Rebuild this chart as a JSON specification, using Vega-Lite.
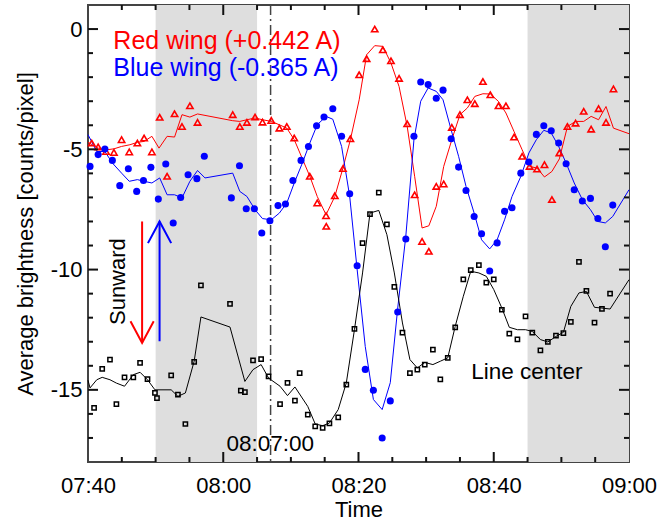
{
  "$schema": "https://vega.github.io/schema/vega-lite/v6.json",
  "width": 541,
  "height": 457,
  "autosize": "none",
  "padding": {"left": 88, "top": 5, "right": 28, "bottom": 60},
  "config": {
    "view": {"stroke": "#444", "strokeWidth": 2},
    "font": "Liberation Sans",
    "axis": {
      "domain": false, "grid": false, "ticks": false,
      "labelFont": "Liberation Sans", "labelFontSize": 22, "labelColor": "#000",
      "titleFont": "Liberation Sans", "titleFontSize": 22, "titleFontWeight": "normal", "titleColor": "#000"
    }
  },
  "data": {
    "format": {"parse": {"t": "date:'%H:%M:%S'", "t2": "date:'%H:%M:%S'"}},
    "values": [
      {"k":"band","t":"07:50:00","t2":"08:05:00"},
      {"k":"band","t":"08:45:00","t2":"09:00:00"},
      {"k":"vline","t":"08:07:00"},

      {"k":"xM","t":"08:00:00","v":-18},{"k":"xM","t":"08:20:00","v":-18},{"k":"xM","t":"08:40:00","v":-18},
      {"k":"xM","t":"08:00:00","v":1},{"k":"xM","t":"08:20:00","v":1},{"k":"xM","t":"08:40:00","v":1},
      {"k":"xm","t":"07:45:00","v":-18},{"k":"xm","t":"07:50:00","v":-18},{"k":"xm","t":"07:55:00","v":-18},
      {"k":"xm","t":"08:05:00","v":-18},{"k":"xm","t":"08:10:00","v":-18},{"k":"xm","t":"08:15:00","v":-18},
      {"k":"xm","t":"08:25:00","v":-18},{"k":"xm","t":"08:30:00","v":-18},{"k":"xm","t":"08:35:00","v":-18},
      {"k":"xm","t":"08:45:00","v":-18},{"k":"xm","t":"08:50:00","v":-18},{"k":"xm","t":"08:55:00","v":-18},
      {"k":"xm","t":"07:45:00","v":1},{"k":"xm","t":"07:50:00","v":1},{"k":"xm","t":"07:55:00","v":1},
      {"k":"xm","t":"08:05:00","v":1},{"k":"xm","t":"08:10:00","v":1},{"k":"xm","t":"08:15:00","v":1},
      {"k":"xm","t":"08:25:00","v":1},{"k":"xm","t":"08:30:00","v":1},{"k":"xm","t":"08:35:00","v":1},
      {"k":"xm","t":"08:45:00","v":1},{"k":"xm","t":"08:50:00","v":1},{"k":"xm","t":"08:55:00","v":1},
      {"k":"yM","t":"07:40:00","v":0},{"k":"yM","t":"07:40:00","v":-5},{"k":"yM","t":"07:40:00","v":-10},{"k":"yM","t":"07:40:00","v":-15},
      {"k":"yM","t":"09:00:00","v":0},{"k":"yM","t":"09:00:00","v":-5},{"k":"yM","t":"09:00:00","v":-10},{"k":"yM","t":"09:00:00","v":-15},
      {"k":"ym","t":"07:40:00","v":-1},{"k":"ym","t":"07:40:00","v":-2},{"k":"ym","t":"07:40:00","v":-3},{"k":"ym","t":"07:40:00","v":-4},
      {"k":"ym","t":"07:40:00","v":-6},{"k":"ym","t":"07:40:00","v":-7},{"k":"ym","t":"07:40:00","v":-8},{"k":"ym","t":"07:40:00","v":-9},
      {"k":"ym","t":"07:40:00","v":-11},{"k":"ym","t":"07:40:00","v":-12},{"k":"ym","t":"07:40:00","v":-13},{"k":"ym","t":"07:40:00","v":-14},
      {"k":"ym","t":"07:40:00","v":-16},{"k":"ym","t":"07:40:00","v":-17},
      {"k":"ym","t":"09:00:00","v":-1},{"k":"ym","t":"09:00:00","v":-2},{"k":"ym","t":"09:00:00","v":-3},{"k":"ym","t":"09:00:00","v":-4},
      {"k":"ym","t":"09:00:00","v":-6},{"k":"ym","t":"09:00:00","v":-7},{"k":"ym","t":"09:00:00","v":-8},{"k":"ym","t":"09:00:00","v":-9},
      {"k":"ym","t":"09:00:00","v":-11},{"k":"ym","t":"09:00:00","v":-12},{"k":"ym","t":"09:00:00","v":-13},{"k":"ym","t":"09:00:00","v":-14},
      {"k":"ym","t":"09:00:00","v":-16},{"k":"ym","t":"09:00:00","v":-17},

      {"k":"obs","s":"red","t":"07:40:33","v":-4.74},
      {"k":"obs","s":"red","t":"07:41:30","v":-4.9},
      {"k":"obs","s":"red","t":"07:42:40","v":-5.09},
      {"k":"obs","s":"red","t":"07:43:50","v":-5.13},
      {"k":"obs","s":"red","t":"07:44:58","v":-4.6},
      {"k":"obs","s":"red","t":"07:46:06","v":-5.11},
      {"k":"obs","s":"red","t":"07:47:18","v":-4.74},
      {"k":"obs","s":"red","t":"07:48:18","v":-4.53},
      {"k":"obs","s":"red","t":"07:49:27","v":-5.11},
      {"k":"obs","s":"red","t":"07:50:36","v":-3.67},
      {"k":"obs","s":"red","t":"07:51:42","v":-6.12},
      {"k":"obs","s":"red","t":"07:52:48","v":-3.52},
      {"k":"obs","s":"red","t":"07:53:54","v":-4.05},
      {"k":"obs","s":"red","t":"07:55:04","v":-3.19},
      {"k":"obs","s":"red","t":"07:56:12","v":-3.88},
      {"k":"obs","s":"red","t":"08:01:24","v":-3.56},
      {"k":"obs","s":"red","t":"08:02:27","v":-4.05},
      {"k":"obs","s":"red","t":"08:03:30","v":-3.88},
      {"k":"obs","s":"red","t":"08:04:42","v":-3.66},
      {"k":"obs","s":"red","t":"08:05:48","v":-3.87},
      {"k":"obs","s":"red","t":"08:07:06","v":-3.8},
      {"k":"obs","s":"red","t":"08:08:18","v":-4.12},
      {"k":"obs","s":"red","t":"08:09:24","v":-4.05},
      {"k":"obs","s":"red","t":"08:10:30","v":-4.53},
      {"k":"obs","s":"red","t":"08:12:48","v":-6.12},
      {"k":"obs","s":"red","t":"08:13:54","v":-7.23},
      {"k":"obs","s":"red","t":"08:15:12","v":-7.76},
      {"k":"obs","s":"red","t":"08:15:14","v":-8.2},
      {"k":"obs","s":"red","t":"08:16:30","v":-6.93},
      {"k":"obs","s":"red","t":"08:17:42","v":-5.8},
      {"k":"obs","s":"red","t":"08:18:48","v":-4.56},
      {"k":"obs","s":"red","t":"08:20:06","v":-1.9},
      {"k":"obs","s":"red","t":"08:21:12","v":-1.23},
      {"k":"obs","s":"red","t":"08:22:24","v":0.0},
      {"k":"obs","s":"red","t":"08:23:36","v":-0.86},
      {"k":"obs","s":"red","t":"08:24:48","v":-1.32},
      {"k":"obs","s":"red","t":"08:26:00","v":-2.05},
      {"k":"obs","s":"red","t":"08:27:12","v":-3.94},
      {"k":"obs","s":"red","t":"08:28:18","v":-6.89},
      {"k":"obs","s":"red","t":"08:29:24","v":-8.83},
      {"k":"obs","s":"red","t":"08:30:24","v":-9.24},
      {"k":"obs","s":"red","t":"08:31:30","v":-6.54},
      {"k":"obs","s":"red","t":"08:32:36","v":-6.44},
      {"k":"obs","s":"red","t":"08:33:48","v":-4.09},
      {"k":"obs","s":"red","t":"08:35:00","v":-3.56},
      {"k":"obs","s":"red","t":"08:36:06","v":-2.94},
      {"k":"obs","s":"red","t":"08:37:12","v":-3.1},
      {"k":"obs","s":"red","t":"08:38:24","v":-2.18},
      {"k":"obs","s":"red","t":"08:39:30","v":-2.73},
      {"k":"obs","s":"red","t":"08:40:42","v":-3.19},
      {"k":"obs","s":"red","t":"08:41:48","v":-3.19},
      {"k":"obs","s":"red","t":"08:43:00","v":-4.49},
      {"k":"obs","s":"red","t":"08:44:12","v":-5.29},
      {"k":"obs","s":"red","t":"08:45:18","v":-5.71},
      {"k":"obs","s":"red","t":"08:46:24","v":-5.82},
      {"k":"obs","s":"red","t":"08:47:30","v":-5.64},
      {"k":"obs","s":"red","t":"08:48:36","v":-7.09},
      {"k":"obs","s":"red","t":"08:49:42","v":-5.15},
      {"k":"obs","s":"red","t":"08:50:54","v":-4.05},
      {"k":"obs","s":"red","t":"08:52:06","v":-3.91},
      {"k":"obs","s":"red","t":"08:53:18","v":-3.42},
      {"k":"obs","s":"red","t":"08:54:24","v":-4.16},
      {"k":"obs","s":"red","t":"08:55:30","v":-3.31},
      {"k":"obs","s":"red","t":"08:56:36","v":-3.88},
      {"k":"obs","s":"red","t":"08:57:42","v":-2.49},

      {"k":"fit","s":"red","t":"07:40:00","v":-4.71},
      {"k":"fit","s":"red","t":"07:41:30","v":-4.95},
      {"k":"fit","s":"red","t":"07:42:46","v":-5.02},
      {"k":"fit","s":"red","t":"07:43:50","v":-4.98},
      {"k":"fit","s":"red","t":"07:44:58","v":-4.88},
      {"k":"fit","s":"red","t":"07:46:12","v":-4.81},
      {"k":"fit","s":"red","t":"07:47:18","v":-4.71},
      {"k":"fit","s":"red","t":"07:48:18","v":-4.67},
      {"k":"fit","s":"red","t":"07:49:27","v":-4.46},
      {"k":"fit","s":"red","t":"07:50:30","v":-4.95},
      {"k":"fit","s":"red","t":"07:51:42","v":-4.46},
      {"k":"fit","s":"red","t":"07:52:48","v":-4.49},
      {"k":"fit","s":"red","t":"07:53:54","v":-3.56},
      {"k":"fit","s":"red","t":"07:55:04","v":-3.66},
      {"k":"fit","s":"red","t":"07:56:12","v":-3.53},
      {"k":"fit","s":"red","t":"08:01:24","v":-3.81},
      {"k":"fit","s":"red","t":"08:02:27","v":-3.84},
      {"k":"fit","s":"red","t":"08:03:30","v":-3.77},
      {"k":"fit","s":"red","t":"08:04:42","v":-3.7},
      {"k":"fit","s":"red","t":"08:05:48","v":-3.77},
      {"k":"fit","s":"red","t":"08:07:06","v":-3.84},
      {"k":"fit","s":"red","t":"08:08:18","v":-3.98},
      {"k":"fit","s":"red","t":"08:09:24","v":-4.12},
      {"k":"fit","s":"red","t":"08:10:30","v":-4.6},
      {"k":"fit","s":"red","t":"08:12:48","v":-6.12},
      {"k":"fit","s":"red","t":"08:13:54","v":-6.96},
      {"k":"fit","s":"red","t":"08:15:12","v":-7.72},
      {"k":"fit","s":"red","t":"08:16:30","v":-6.96},
      {"k":"fit","s":"red","t":"08:17:42","v":-5.78},
      {"k":"fit","s":"red","t":"08:18:48","v":-4.6},
      {"k":"fit","s":"red","t":"08:20:06","v":-2.94},
      {"k":"fit","s":"red","t":"08:21:12","v":-1.07},
      {"k":"fit","s":"red","t":"08:22:24","v":-0.69},
      {"k":"fit","s":"red","t":"08:23:36","v":-0.72},
      {"k":"fit","s":"red","t":"08:24:48","v":-1.41},
      {"k":"fit","s":"red","t":"08:26:00","v":-2.39},
      {"k":"fit","s":"red","t":"08:27:12","v":-4.05},
      {"k":"fit","s":"red","t":"08:28:18","v":-6.12},
      {"k":"fit","s":"red","t":"08:29:24","v":-8.27},
      {"k":"fit","s":"red","t":"08:30:24","v":-8.18},
      {"k":"fit","s":"red","t":"08:31:30","v":-7.37},
      {"k":"fit","s":"red","t":"08:32:36","v":-5.71},
      {"k":"fit","s":"red","t":"08:33:48","v":-4.6},
      {"k":"fit","s":"red","t":"08:35:00","v":-3.56},
      {"k":"fit","s":"red","t":"08:36:06","v":-3.28},
      {"k":"fit","s":"red","t":"08:37:12","v":-2.8},
      {"k":"fit","s":"red","t":"08:38:24","v":-2.69},
      {"k":"fit","s":"red","t":"08:39:30","v":-2.7},
      {"k":"fit","s":"red","t":"08:40:42","v":-3.01},
      {"k":"fit","s":"red","t":"08:41:48","v":-3.49},
      {"k":"fit","s":"red","t":"08:43:00","v":-4.26},
      {"k":"fit","s":"red","t":"08:44:12","v":-5.02},
      {"k":"fit","s":"red","t":"08:45:18","v":-5.71},
      {"k":"fit","s":"red","t":"08:46:24","v":-5.78},
      {"k":"fit","s":"red","t":"08:47:30","v":-6.15},
      {"k":"fit","s":"red","t":"08:48:36","v":-5.92},
      {"k":"fit","s":"red","t":"08:49:42","v":-5.4},
      {"k":"fit","s":"red","t":"08:50:54","v":-4.05},
      {"k":"fit","s":"red","t":"08:52:06","v":-3.84},
      {"k":"fit","s":"red","t":"08:53:18","v":-3.84},
      {"k":"fit","s":"red","t":"08:54:24","v":-3.63},
      {"k":"fit","s":"red","t":"08:55:30","v":-3.77},
      {"k":"fit","s":"red","t":"08:56:36","v":-3.22},
      {"k":"fit","s":"red","t":"08:57:42","v":-4.12},
      {"k":"fit","s":"red","t":"09:00:00","v":-4.35},

      {"k":"obs","s":"blue","t":"07:40:18","v":-5.71},
      {"k":"obs","s":"blue","t":"07:41:30","v":-5.22},
      {"k":"obs","s":"blue","t":"07:42:30","v":-4.99},
      {"k":"obs","s":"blue","t":"07:43:36","v":-5.46},
      {"k":"obs","s":"blue","t":"07:44:42","v":-6.51},
      {"k":"obs","s":"blue","t":"07:45:58","v":-5.81},
      {"k":"obs","s":"blue","t":"07:47:12","v":-6.75},
      {"k":"obs","s":"blue","t":"07:48:12","v":-6.3},
      {"k":"obs","s":"blue","t":"07:49:18","v":-5.75},
      {"k":"obs","s":"blue","t":"07:50:24","v":-7.07},
      {"k":"obs","s":"blue","t":"07:51:30","v":-5.61},
      {"k":"obs","s":"blue","t":"07:52:36","v":-8.06},
      {"k":"obs","s":"blue","t":"07:53:42","v":-7.0},
      {"k":"obs","s":"blue","t":"07:54:48","v":-6.06},
      {"k":"obs","s":"blue","t":"07:56:06","v":-6.22},
      {"k":"obs","s":"blue","t":"07:57:12","v":-5.29},
      {"k":"obs","s":"blue","t":"08:01:12","v":-7.02},
      {"k":"obs","s":"blue","t":"08:02:24","v":-5.68},
      {"k":"obs","s":"blue","t":"08:03:24","v":-7.47},
      {"k":"obs","s":"blue","t":"08:04:36","v":-7.47},
      {"k":"obs","s":"blue","t":"08:05:42","v":-8.48},
      {"k":"obs","s":"blue","t":"08:06:54","v":-7.97},
      {"k":"obs","s":"blue","t":"08:08:06","v":-7.34},
      {"k":"obs","s":"blue","t":"08:09:12","v":-7.27},
      {"k":"obs","s":"blue","t":"08:10:18","v":-6.3},
      {"k":"obs","s":"blue","t":"08:11:30","v":-5.46},
      {"k":"obs","s":"blue","t":"08:12:36","v":-4.88},
      {"k":"obs","s":"blue","t":"08:13:48","v":-4.02},
      {"k":"obs","s":"blue","t":"08:14:54","v":-3.66},
      {"k":"obs","s":"blue","t":"08:16:12","v":-3.31},
      {"k":"obs","s":"blue","t":"08:17:30","v":-4.46},
      {"k":"obs","s":"blue","t":"08:18:42","v":-6.85},
      {"k":"obs","s":"blue","t":"08:19:48","v":-9.84},
      {"k":"obs","s":"blue","t":"08:21:00","v":-14.15},
      {"k":"obs","s":"blue","t":"08:22:12","v":-15.02},
      {"k":"obs","s":"blue","t":"08:23:30","v":-17.0},
      {"k":"obs","s":"blue","t":"08:24:42","v":-15.46},
      {"k":"obs","s":"blue","t":"08:25:48","v":-11.76},
      {"k":"obs","s":"blue","t":"08:27:00","v":-8.73},
      {"k":"obs","s":"blue","t":"08:28:12","v":-4.46},
      {"k":"obs","s":"blue","t":"08:29:12","v":-2.2},
      {"k":"obs","s":"blue","t":"08:30:18","v":-2.31},
      {"k":"obs","s":"blue","t":"08:31:30","v":-2.88},
      {"k":"obs","s":"blue","t":"08:32:30","v":-2.54},
      {"k":"obs","s":"blue","t":"08:33:42","v":-4.56},
      {"k":"obs","s":"blue","t":"08:34:48","v":-5.74},
      {"k":"obs","s":"blue","t":"08:35:54","v":-6.71},
      {"k":"obs","s":"blue","t":"08:37:06","v":-7.79},
      {"k":"obs","s":"blue","t":"08:38:12","v":-8.51},
      {"k":"obs","s":"blue","t":"08:39:24","v":-10.06},
      {"k":"obs","s":"blue","t":"08:40:30","v":-8.89},
      {"k":"obs","s":"blue","t":"08:41:36","v":-7.58},
      {"k":"obs","s":"blue","t":"08:42:42","v":-7.43},
      {"k":"obs","s":"blue","t":"08:44:00","v":-5.99},
      {"k":"obs","s":"blue","t":"08:45:12","v":-5.53},
      {"k":"obs","s":"blue","t":"08:46:18","v":-4.38},
      {"k":"obs","s":"blue","t":"08:47:24","v":-4.02},
      {"k":"obs","s":"blue","t":"08:48:30","v":-4.23},
      {"k":"obs","s":"blue","t":"08:49:36","v":-4.74},
      {"k":"obs","s":"blue","t":"08:50:42","v":-5.6},
      {"k":"obs","s":"blue","t":"08:51:54","v":-6.68},
      {"k":"obs","s":"blue","t":"08:53:06","v":-7.15},
      {"k":"obs","s":"blue","t":"08:54:18","v":-7.04},
      {"k":"obs","s":"blue","t":"08:55:24","v":-7.88},
      {"k":"obs","s":"blue","t":"08:56:30","v":-9.05},
      {"k":"obs","s":"blue","t":"08:57:36","v":-7.32},

      {"k":"fit","s":"blue","t":"07:40:00","v":-4.39},
      {"k":"fit","s":"blue","t":"07:41:18","v":-5.09},
      {"k":"fit","s":"blue","t":"07:42:30","v":-5.09},
      {"k":"fit","s":"blue","t":"07:43:36","v":-5.57},
      {"k":"fit","s":"blue","t":"07:44:58","v":-5.99},
      {"k":"fit","s":"blue","t":"07:46:06","v":-6.33},
      {"k":"fit","s":"blue","t":"07:47:18","v":-6.26},
      {"k":"fit","s":"blue","t":"07:48:18","v":-6.33},
      {"k":"fit","s":"blue","t":"07:49:27","v":-6.4},
      {"k":"fit","s":"blue","t":"07:50:36","v":-6.19},
      {"k":"fit","s":"blue","t":"07:51:42","v":-6.89},
      {"k":"fit","s":"blue","t":"07:52:48","v":-6.89},
      {"k":"fit","s":"blue","t":"07:53:54","v":-7.02},
      {"k":"fit","s":"blue","t":"07:55:04","v":-6.33},
      {"k":"fit","s":"blue","t":"07:56:12","v":-5.88},
      {"k":"fit","s":"blue","t":"07:57:18","v":-6.19},
      {"k":"fit","s":"blue","t":"08:01:24","v":-5.99},
      {"k":"fit","s":"blue","t":"08:02:27","v":-6.75},
      {"k":"fit","s":"blue","t":"08:03:30","v":-6.96},
      {"k":"fit","s":"blue","t":"08:04:42","v":-7.51},
      {"k":"fit","s":"blue","t":"08:05:48","v":-7.88},
      {"k":"fit","s":"blue","t":"08:07:06","v":-7.93},
      {"k":"fit","s":"blue","t":"08:08:18","v":-7.65},
      {"k":"fit","s":"blue","t":"08:09:24","v":-7.23},
      {"k":"fit","s":"blue","t":"08:10:30","v":-6.4},
      {"k":"fit","s":"blue","t":"08:11:42","v":-5.57},
      {"k":"fit","s":"blue","t":"08:12:48","v":-4.74},
      {"k":"fit","s":"blue","t":"08:13:54","v":-3.98},
      {"k":"fit","s":"blue","t":"08:15:12","v":-3.63},
      {"k":"fit","s":"blue","t":"08:16:12","v":-3.75},
      {"k":"fit","s":"blue","t":"08:17:30","v":-4.88},
      {"k":"fit","s":"blue","t":"08:18:42","v":-6.96},
      {"k":"fit","s":"blue","t":"08:19:48","v":-10.0},
      {"k":"fit","s":"blue","t":"08:21:00","v":-13.2},
      {"k":"fit","s":"blue","t":"08:22:12","v":-15.4},
      {"k":"fit","s":"blue","t":"08:23:30","v":-15.82},
      {"k":"fit","s":"blue","t":"08:24:42","v":-14.7},
      {"k":"fit","s":"blue","t":"08:25:48","v":-11.6},
      {"k":"fit","s":"blue","t":"08:27:00","v":-8.6},
      {"k":"fit","s":"blue","t":"08:28:12","v":-4.6},
      {"k":"fit","s":"blue","t":"08:29:12","v":-3.0},
      {"k":"fit","s":"blue","t":"08:30:18","v":-2.45},
      {"k":"fit","s":"blue","t":"08:31:30","v":-2.59},
      {"k":"fit","s":"blue","t":"08:32:30","v":-2.94},
      {"k":"fit","s":"blue","t":"08:33:42","v":-4.19},
      {"k":"fit","s":"blue","t":"08:34:48","v":-5.29},
      {"k":"fit","s":"blue","t":"08:35:54","v":-6.54},
      {"k":"fit","s":"blue","t":"08:37:06","v":-7.65},
      {"k":"fit","s":"blue","t":"08:38:12","v":-8.76},
      {"k":"fit","s":"blue","t":"08:39:24","v":-9.14},
      {"k":"fit","s":"blue","t":"08:40:30","v":-8.76},
      {"k":"fit","s":"blue","t":"08:41:36","v":-7.93},
      {"k":"fit","s":"blue","t":"08:42:42","v":-6.96},
      {"k":"fit","s":"blue","t":"08:44:00","v":-6.13},
      {"k":"fit","s":"blue","t":"08:45:12","v":-5.15},
      {"k":"fit","s":"blue","t":"08:46:18","v":-4.6},
      {"k":"fit","s":"blue","t":"08:47:24","v":-4.21},
      {"k":"fit","s":"blue","t":"08:48:30","v":-4.32},
      {"k":"fit","s":"blue","t":"08:49:36","v":-4.88},
      {"k":"fit","s":"blue","t":"08:50:42","v":-5.57},
      {"k":"fit","s":"blue","t":"08:51:54","v":-6.4},
      {"k":"fit","s":"blue","t":"08:53:06","v":-7.09},
      {"k":"fit","s":"blue","t":"08:54:18","v":-7.51},
      {"k":"fit","s":"blue","t":"08:55:24","v":-8.0},
      {"k":"fit","s":"blue","t":"08:56:30","v":-8.06},
      {"k":"fit","s":"blue","t":"08:57:36","v":-7.79},
      {"k":"fit","s":"blue","t":"09:00:00","v":-6.68},

      {"k":"obs","s":"black","t":"07:40:54","v":-15.75},
      {"k":"obs","s":"black","t":"07:42:06","v":-14.13},
      {"k":"obs","s":"black","t":"07:43:15","v":-13.74},
      {"k":"obs","s":"black","t":"07:44:12","v":-15.59},
      {"k":"obs","s":"black","t":"07:45:24","v":-14.48},
      {"k":"obs","s":"black","t":"07:46:42","v":-14.48},
      {"k":"obs","s":"black","t":"07:47:42","v":-13.88},
      {"k":"obs","s":"black","t":"07:48:48","v":-14.55},
      {"k":"obs","s":"black","t":"07:49:54","v":-15.13},
      {"k":"obs","s":"black","t":"07:50:12","v":-15.34},
      {"k":"obs","s":"black","t":"07:52:18","v":-14.4},
      {"k":"obs","s":"black","t":"07:53:18","v":-15.2},
      {"k":"obs","s":"black","t":"07:54:24","v":-16.42},
      {"k":"obs","s":"black","t":"07:55:42","v":-13.84},
      {"k":"obs","s":"black","t":"07:56:42","v":-10.66},
      {"k":"obs","s":"black","t":"08:01:00","v":-11.43},
      {"k":"obs","s":"black","t":"08:02:36","v":-15.03},
      {"k":"obs","s":"black","t":"08:03:12","v":-15.09},
      {"k":"obs","s":"black","t":"08:04:24","v":-13.77},
      {"k":"obs","s":"black","t":"08:05:36","v":-13.72},
      {"k":"obs","s":"black","t":"08:06:42","v":-14.44},
      {"k":"obs","s":"black","t":"08:08:24","v":-15.59},
      {"k":"obs","s":"black","t":"08:09:30","v":-14.71},
      {"k":"obs","s":"black","t":"08:10:36","v":-15.45},
      {"k":"obs","s":"black","t":"08:11:18","v":-14.3},
      {"k":"obs","s":"black","t":"08:12:30","v":-16.03},
      {"k":"obs","s":"black","t":"08:13:36","v":-16.52},
      {"k":"obs","s":"black","t":"08:14:42","v":-16.58},
      {"k":"obs","s":"black","t":"08:15:42","v":-16.39},
      {"k":"obs","s":"black","t":"08:17:00","v":-16.14},
      {"k":"obs","s":"black","t":"08:18:12","v":-14.78},
      {"k":"obs","s":"black","t":"08:19:24","v":-12.47},
      {"k":"obs","s":"black","t":"08:20:36","v":-8.9},
      {"k":"obs","s":"black","t":"08:21:42","v":-7.69},
      {"k":"obs","s":"black","t":"08:23:00","v":-6.8},
      {"k":"obs","s":"black","t":"08:24:12","v":-8.12},
      {"k":"obs","s":"black","t":"08:25:18","v":-10.72},
      {"k":"obs","s":"black","t":"08:26:30","v":-12.62},
      {"k":"obs","s":"black","t":"08:27:36","v":-14.31},
      {"k":"obs","s":"black","t":"08:28:42","v":-14.16},
      {"k":"obs","s":"black","t":"08:29:48","v":-13.95},
      {"k":"obs","s":"black","t":"08:31:00","v":-13.33},
      {"k":"obs","s":"black","t":"08:32:06","v":-14.56},
      {"k":"obs","s":"black","t":"08:33:12","v":-13.67},
      {"k":"obs","s":"black","t":"08:34:18","v":-12.4},
      {"k":"obs","s":"black","t":"08:35:30","v":-10.41},
      {"k":"obs","s":"black","t":"08:36:36","v":-10.02},
      {"k":"obs","s":"black","t":"08:37:48","v":-9.81},
      {"k":"obs","s":"black","t":"08:38:54","v":-10.54},
      {"k":"obs","s":"black","t":"08:40:00","v":-10.41},
      {"k":"obs","s":"black","t":"08:41:12","v":-11.67},
      {"k":"obs","s":"black","t":"08:42:18","v":-12.66},
      {"k":"obs","s":"black","t":"08:43:30","v":-12.9},
      {"k":"obs","s":"black","t":"08:44:42","v":-11.95},
      {"k":"obs","s":"black","t":"08:45:42","v":-12.62},
      {"k":"obs","s":"black","t":"08:46:54","v":-13.36},
      {"k":"obs","s":"black","t":"08:48:00","v":-13.01},
      {"k":"obs","s":"black","t":"08:49:12","v":-12.75},
      {"k":"obs","s":"black","t":"08:50:18","v":-12.64},
      {"k":"obs","s":"black","t":"08:51:24","v":-12.17},
      {"k":"obs","s":"black","t":"08:52:36","v":-9.68},
      {"k":"obs","s":"black","t":"08:53:42","v":-10.89},
      {"k":"obs","s":"black","t":"08:54:54","v":-12.21},
      {"k":"obs","s":"black","t":"08:56:00","v":-11.63},
      {"k":"obs","s":"black","t":"08:57:12","v":-11.0},

      {"k":"fit","s":"black","t":"07:40:00","v":-14.6},
      {"k":"fit","s":"black","t":"07:40:18","v":-14.92},
      {"k":"fit","s":"black","t":"07:41:18","v":-14.58},
      {"k":"fit","s":"black","t":"07:42:06","v":-14.48},
      {"k":"fit","s":"black","t":"07:43:15","v":-14.58},
      {"k":"fit","s":"black","t":"07:44:12","v":-14.72},
      {"k":"fit","s":"black","t":"07:45:24","v":-14.85},
      {"k":"fit","s":"black","t":"07:46:42","v":-14.37},
      {"k":"fit","s":"black","t":"07:47:42","v":-14.27},
      {"k":"fit","s":"black","t":"07:48:48","v":-14.58},
      {"k":"fit","s":"black","t":"07:49:54","v":-15.0},
      {"k":"fit","s":"black","t":"07:50:12","v":-15.0},
      {"k":"fit","s":"black","t":"07:52:18","v":-15.0},
      {"k":"fit","s":"black","t":"07:53:18","v":-15.27},
      {"k":"fit","s":"black","t":"07:54:24","v":-15.13},
      {"k":"fit","s":"black","t":"07:55:42","v":-13.81},
      {"k":"fit","s":"black","t":"07:56:42","v":-11.97},
      {"k":"fit","s":"black","t":"08:01:00","v":-12.39},
      {"k":"fit","s":"black","t":"08:03:12","v":-14.65},
      {"k":"fit","s":"black","t":"08:04:24","v":-14.16},
      {"k":"fit","s":"black","t":"08:05:36","v":-13.95},
      {"k":"fit","s":"black","t":"08:06:42","v":-14.51},
      {"k":"fit","s":"black","t":"08:08:24","v":-14.85},
      {"k":"fit","s":"black","t":"08:09:30","v":-15.24},
      {"k":"fit","s":"black","t":"08:10:36","v":-14.88},
      {"k":"fit","s":"black","t":"08:12:30","v":-15.69},
      {"k":"fit","s":"black","t":"08:13:36","v":-16.42},
      {"k":"fit","s":"black","t":"08:14:42","v":-16.49},
      {"k":"fit","s":"black","t":"08:15:42","v":-16.38},
      {"k":"fit","s":"black","t":"08:17:00","v":-15.82},
      {"k":"fit","s":"black","t":"08:18:12","v":-14.71},
      {"k":"fit","s":"black","t":"08:19:24","v":-12.5},
      {"k":"fit","s":"black","t":"08:20:36","v":-10.14},
      {"k":"fit","s":"black","t":"08:21:42","v":-7.65},
      {"k":"fit","s":"black","t":"08:23:00","v":-7.54},
      {"k":"fit","s":"black","t":"08:24:12","v":-8.55},
      {"k":"fit","s":"black","t":"08:25:18","v":-10.14},
      {"k":"fit","s":"black","t":"08:26:30","v":-12.22},
      {"k":"fit","s":"black","t":"08:27:36","v":-13.74},
      {"k":"fit","s":"black","t":"08:28:42","v":-14.09},
      {"k":"fit","s":"black","t":"08:29:48","v":-13.86},
      {"k":"fit","s":"black","t":"08:31:00","v":-13.95},
      {"k":"fit","s":"black","t":"08:32:06","v":-13.81},
      {"k":"fit","s":"black","t":"08:33:12","v":-13.67},
      {"k":"fit","s":"black","t":"08:34:18","v":-12.36},
      {"k":"fit","s":"black","t":"08:35:30","v":-11.11},
      {"k":"fit","s":"black","t":"08:36:36","v":-10.07},
      {"k":"fit","s":"black","t":"08:37:48","v":-10.14},
      {"k":"fit","s":"black","t":"08:38:54","v":-10.28},
      {"k":"fit","s":"black","t":"08:40:00","v":-10.83},
      {"k":"fit","s":"black","t":"08:41:12","v":-11.6},
      {"k":"fit","s":"black","t":"08:42:18","v":-12.4},
      {"k":"fit","s":"black","t":"08:43:30","v":-12.5},
      {"k":"fit","s":"black","t":"08:44:42","v":-12.5},
      {"k":"fit","s":"black","t":"08:45:42","v":-12.57},
      {"k":"fit","s":"black","t":"08:46:54","v":-12.91},
      {"k":"fit","s":"black","t":"08:48:00","v":-13.01},
      {"k":"fit","s":"black","t":"08:49:12","v":-12.78},
      {"k":"fit","s":"black","t":"08:50:18","v":-12.61},
      {"k":"fit","s":"black","t":"08:51:24","v":-11.53},
      {"k":"fit","s":"black","t":"08:52:36","v":-10.97},
      {"k":"fit","s":"black","t":"08:53:42","v":-10.91},
      {"k":"fit","s":"black","t":"08:54:54","v":-11.57},
      {"k":"fit","s":"black","t":"08:56:00","v":-11.6},
      {"k":"fit","s":"black","t":"08:57:12","v":-11.64},
      {"k":"fit","s":"black","t":"09:00:00","v":-10.42},

      {"k":"arrow","s":"red","g":"rs","o":1,"t":"07:48:00","v":-8.0},
      {"k":"arrow","s":"red","g":"rs","o":2,"t":"07:48:00","v":-13.05},
      {"k":"arrow","s":"red","g":"rh","o":1,"t":"07:46:17","v":-12.15},
      {"k":"arrow","s":"red","g":"rh","o":2,"t":"07:48:00","v":-13.05},
      {"k":"arrow","s":"red","g":"rh","o":3,"t":"07:49:43","v":-12.15},
      {"k":"arrow","s":"blue","g":"bs","o":1,"t":"07:50:35","v":-12.98},
      {"k":"arrow","s":"blue","g":"bs","o":2,"t":"07:50:35","v":-8.0},
      {"k":"arrow","s":"blue","g":"bh","o":1,"t":"07:48:52","v":-8.9},
      {"k":"arrow","s":"blue","g":"bh","o":2,"t":"07:50:35","v":-8.0},
      {"k":"arrow","s":"blue","g":"bh","o":3,"t":"07:52:18","v":-8.9},

      {"k":"leg","s":"red","t":"07:43:45","v":-0.84,"txt":"Red wing (+0.442 A)"},
      {"k":"leg","s":"blue","t":"07:43:45","v":-1.94,"txt":"Blue wing (-0.365 A)"},
      {"k":"sun","s":"black","t":"07:44:26","v":-10.5,"txt":"Sunward"},
      {"k":"lab","s":"black","t":"08:36:40","v":-14.53,"txt":"Line center"},
      {"k":"lab","s":"black","t":"08:00:29","v":-17.56,"txt":"08:07:00"}
    ]
  },
  "resolve": {"axis": {"x": "independent", "y": "independent"}},
  "layer": [
    {
      "transform": [{"filter": {"field": "k", "equal": "band"}}],
      "mark": {"type": "rect", "color": "#dedede"},
      "encoding": {
        "x": {"field": "t", "type": "temporal", "axis": null,
              "scale": {"domain": [{"year":1900,"month":1,"date":1,"hours":7,"minutes":40},{"year":1900,"month":1,"date":1,"hours":9,"minutes":0}], "nice": false}},
        "x2": {"field": "t2"}
      }
    },
    {
      "transform": [{"filter": {"field": "k", "equal": "vline"}}],
      "mark": {"type": "rule", "color": "#444", "strokeWidth": 1.5, "strokeDash": [10, 4, 2, 4]},
      "encoding": {"x": {"field": "t", "type": "temporal", "axis": null}}
    },
    {
      "transform": [{"filter": {"field": "k", "equal": "fit"}}],
      "mark": {"type": "line", "strokeWidth": 1},
      "encoding": {
        "x": {"field": "t", "type": "temporal",
              "axis": {"orient": "bottom", "values": [{"year":1900,"month":1,"date":1,"hours":7,"minutes":40},{"year":1900,"month":1,"date":1,"hours":8,"minutes":0},{"year":1900,"month":1,"date":1,"hours":8,"minutes":20},{"year":1900,"month":1,"date":1,"hours":8,"minutes":40},{"year":1900,"month":1,"date":1,"hours":9,"minutes":0}],
                       "format": "%H:%M", "ticks": false, "labelPadding": 13, "labelFlush": false, "labelOverlap": false, "title": "Time", "titlePadding": 3}},
        "y": {"field": "v", "type": "quantitative",
              "scale": {"domain": [-18, 1], "nice": false, "zero": false},
              "axis": {"orient": "left", "values": [0, -5, -10, -15], "ticks": false, "labelPadding": 6, "labelExpr": "'' + datum.value", "title": "Average brightness [counts/pixel]", "titlePadding": 13}},
        "color": {"field": "s", "type": "nominal", "scale": {"domain": ["red", "blue", "black"], "range": ["#ff0000", "#0000ff", "#000000"]}, "legend": null},
        "detail": {"field": "s"}
      }
    },
    {
      "transform": [{"filter": {"and": [{"field": "k", "equal": "obs"}, {"field": "s", "equal": "black"}]}}],
      "mark": {"type": "point", "shape": "square", "filled": false, "size": 18, "strokeWidth": 1.5, "opacity": 1},
      "encoding": {
        "x": {"field": "t", "type": "temporal", "axis": null},
        "y": {"field": "v", "type": "quantitative", "axis": null},
        "color": {"field": "s", "type": "nominal", "legend": null}
      }
    },
    {
      "transform": [{"filter": {"and": [{"field": "k", "equal": "obs"}, {"field": "s", "equal": "red"}]}}],
      "mark": {"type": "point", "shape": "triangle-up", "filled": false, "size": 40, "strokeWidth": 1.6, "opacity": 1},
      "encoding": {
        "x": {"field": "t", "type": "temporal", "axis": null},
        "y": {"field": "v", "type": "quantitative", "axis": null},
        "color": {"field": "s", "type": "nominal", "legend": null}
      }
    },
    {
      "transform": [{"filter": {"and": [{"field": "k", "equal": "obs"}, {"field": "s", "equal": "blue"}]}}],
      "mark": {"type": "point", "shape": "circle", "filled": true, "size": 50, "opacity": 1},
      "encoding": {
        "x": {"field": "t", "type": "temporal", "axis": null},
        "y": {"field": "v", "type": "quantitative", "axis": null},
        "color": {"field": "s", "type": "nominal", "legend": null}
      }
    },
    {
      "transform": [{"filter": {"field": "k", "equal": "arrow"}}],
      "mark": {"type": "line", "strokeWidth": 2},
      "encoding": {
        "x": {"field": "t", "type": "temporal", "axis": null},
        "y": {"field": "v", "type": "quantitative", "axis": null},
        "color": {"field": "s", "type": "nominal", "legend": null},
        "detail": {"field": "g"},
        "order": {"field": "o", "type": "quantitative"}
      }
    },
    {
      "transform": [{"filter": {"field": "k", "equal": "xM"}}],
      "mark": {"type": "tick", "orient": "vertical", "size": 20, "thickness": 2, "color": "#111", "opacity": 1, "clip": true},
      "encoding": {
        "x": {"field": "t", "type": "temporal", "axis": null},
        "y": {"field": "v", "type": "quantitative", "axis": null}
      }
    },
    {
      "transform": [{"filter": {"field": "k", "equal": "xm"}}],
      "mark": {"type": "tick", "orient": "vertical", "size": 10, "thickness": 2, "color": "#111", "opacity": 1, "clip": true},
      "encoding": {
        "x": {"field": "t", "type": "temporal", "axis": null},
        "y": {"field": "v", "type": "quantitative", "axis": null}
      }
    },
    {
      "transform": [{"filter": {"field": "k", "equal": "yM"}}],
      "mark": {"type": "tick", "orient": "horizontal", "size": 20, "thickness": 2, "color": "#111", "opacity": 1, "clip": true},
      "encoding": {
        "x": {"field": "t", "type": "temporal", "axis": null},
        "y": {"field": "v", "type": "quantitative", "axis": null}
      }
    },
    {
      "transform": [{"filter": {"field": "k", "equal": "ym"}}],
      "mark": {"type": "tick", "orient": "horizontal", "size": 10, "thickness": 2, "color": "#111", "opacity": 1, "clip": true},
      "encoding": {
        "x": {"field": "t", "type": "temporal", "axis": null},
        "y": {"field": "v", "type": "quantitative", "axis": null}
      }
    },
    {
      "transform": [{"filter": {"field": "k", "equal": "leg"}}],
      "mark": {"type": "text", "align": "left", "baseline": "alphabetic", "fontSize": 25, "font": "Liberation Sans"},
      "encoding": {
        "x": {"field": "t", "type": "temporal", "axis": null},
        "y": {"field": "v", "type": "quantitative", "axis": null},
        "text": {"field": "txt"},
        "color": {"field": "s", "type": "nominal", "legend": null}
      }
    },
    {
      "transform": [{"filter": {"field": "k", "equal": "sun"}}],
      "mark": {"type": "text", "align": "center", "baseline": "middle", "angle": 270, "fontSize": 22, "font": "Liberation Sans", "color": "#000"},
      "encoding": {
        "x": {"field": "t", "type": "temporal", "axis": null},
        "y": {"field": "v", "type": "quantitative", "axis": null},
        "text": {"field": "txt"}
      }
    },
    {
      "transform": [{"filter": {"field": "k", "equal": "lab"}}],
      "mark": {"type": "text", "align": "left", "baseline": "alphabetic", "fontSize": 22.5, "font": "Liberation Sans", "color": "#000"},
      "encoding": {
        "x": {"field": "t", "type": "temporal", "axis": null},
        "y": {"field": "v", "type": "quantitative", "axis": null},
        "text": {"field": "txt"}
      }
    }
  ]
}
